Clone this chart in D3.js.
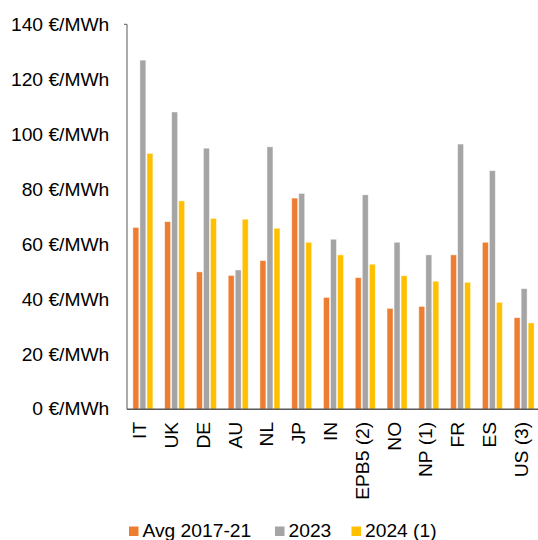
<!DOCTYPE html>
<html>
<head>
<meta charset="utf-8">
<script src="https://cdn.jsdelivr.net/npm/d3@7"></script>
<style>
  html, body { margin: 0; padding: 0; background: #fff; }
  svg { display: block; font-family: "Liberation Sans", Arial, sans-serif; }
</style>
</head>
<body>
<svg id="chart" width="538" height="540"></svg>
<script>
// Wholesale electricity prices by market (€/MWh)
const categories = ["IT", "UK", "DE", "AU", "NL", "JP", "IN", "EPB5 (2)", "NO", "NP (1)", "FR", "ES", "US (3)"];
const seriesNames = ["Avg 2017-21", "2023", "2024 (1)"];
const avg2017_21 = [66.3, 68.4, 50.1, 48.8, 54.2, 77.0, 40.8, 48.0, 36.8, 37.5, 56.3, 60.9, 33.4];
const values2023 = [127.3, 108.4, 95.2, 50.8, 95.7, 78.7, 62.0, 78.2, 60.9, 56.3, 96.7, 87.0, 44.0];
const values2024 = [93.3, 76.0, 69.6, 69.3, 66.0, 60.9, 56.3, 52.9, 48.7, 46.7, 46.3, 39.0, 31.5];
const yTicks = [0, 20, 40, 60, 80, 100, 120, 140];
const colors = ["#ED7D31", "#A5A5A5", "#FFC000"];

const seriesValues = [avg2017_21, values2023, values2024];
const rows = categories.map((c, i) => ({
  cat: c,
  vals: seriesNames.map((s, j) => ({ key: s, value: seriesValues[j][i] }))
}));

const svg = d3.select("#chart");
const plotLeft = 127, plotRight = 540, plotTop = 25.3, plotBottom = 409.3;
const fontSize = 17.5, widen = 1.1;   // slightly expanded lettering

const x0 = d3.scaleBand().domain(categories).range([plotLeft, plotRight])
  .paddingInner(0.37).paddingOuter(0.185);
const x1 = d3.scaleBand().domain(seriesNames).range([0, x0.bandwidth()])
  .paddingInner(0.15);
const y = d3.scaleLinear().domain([0, 140]).range([plotBottom, plotTop]);
const color = d3.scaleOrdinal().domain(seriesNames).range(colors);

// Y axis labels
const yPad = 17.7;
const yAxis = svg.append("g").attr("transform", `translate(${plotLeft},0)`)
  .call(d3.axisLeft(y).tickValues(yTicks).tickSize(0).tickPadding(yPad)
    .tickFormat(d => `${d} €/MWh`));
yAxis.select(".domain").remove();
yAxis.selectAll("text")
  .attr("font-size", fontSize).attr("fill", "#000")
  .style("font-family", "'Liberation Sans', Arial, sans-serif")
  .attr("x", null)
  .attr("transform", `translate(${-yPad},0) scale(${widen},1)`);

// Bars
const groups = svg.append("g").selectAll("g").data(rows).join("g")
  .attr("transform", d => `translate(${x0(d.cat)},0)`);
groups.selectAll("rect").data(d => d.vals).join("rect")
  .attr("x", d => x1(d.key))
  .attr("width", x1.bandwidth())
  .attr("y", d => y(d.value))
  .attr("height", d => y(0) - y(d.value))
  .attr("fill", d => color(d.key))
  .attr("stroke", "#fff")
  .attr("stroke-opacity", 0.6)
  .attr("stroke-width", 0.75);

// Axis lines
svg.append("line").attr("x1", plotLeft).attr("x2", plotLeft).attr("y1", plotTop - 1).attr("y2", plotBottom)
  .attr("stroke", "#595959").attr("stroke-width", 1);
svg.append("line").attr("x1", plotLeft - 3).attr("x2", plotLeft).attr("y1", plotTop - 1).attr("y2", plotTop - 1)
  .attr("stroke", "#595959").attr("stroke-width", 1);
svg.append("line").attr("x1", plotLeft).attr("x2", 538).attr("y1", plotBottom).attr("y2", plotBottom)
  .attr("stroke", "#595959").attr("stroke-width", 1.5);

// Category labels, rotated
const xAxis = svg.append("g").attr("transform", `translate(0,${plotBottom})`)
  .call(d3.axisBottom(x0).tickSize(0).tickPadding(0));
xAxis.select(".domain").remove();
xAxis.selectAll("text")
  .attr("font-size", fontSize)
  .attr("fill", "#000")
  .style("font-family", "'Liberation Sans', Arial, sans-serif")
  .attr("text-anchor", "end")
  .attr("dy", null)
  .attr("y", 0)
  .attr("transform", `translate(3.5,12.5) rotate(-90) scale(${widen},1)`);

// Legend
const legendX = [129, 275, 351.5];
const legend = svg.append("g").selectAll("g").data(seriesNames).join("g")
  .attr("transform", (d, i) => `translate(${legendX[i]},526.5)`);
legend.append("rect").attr("width", 9.5).attr("height", 9.5).attr("fill", d => color(d));
legend.append("text").attr("x", 13.5).attr("y", 10.8)
  .attr("transform", `translate(13.5,0) scale(${widen},1) translate(-13.5,0)`)
  .attr("font-size", fontSize).attr("fill", "#000")
  .text(d => d);
</script>
</body>
</html>
